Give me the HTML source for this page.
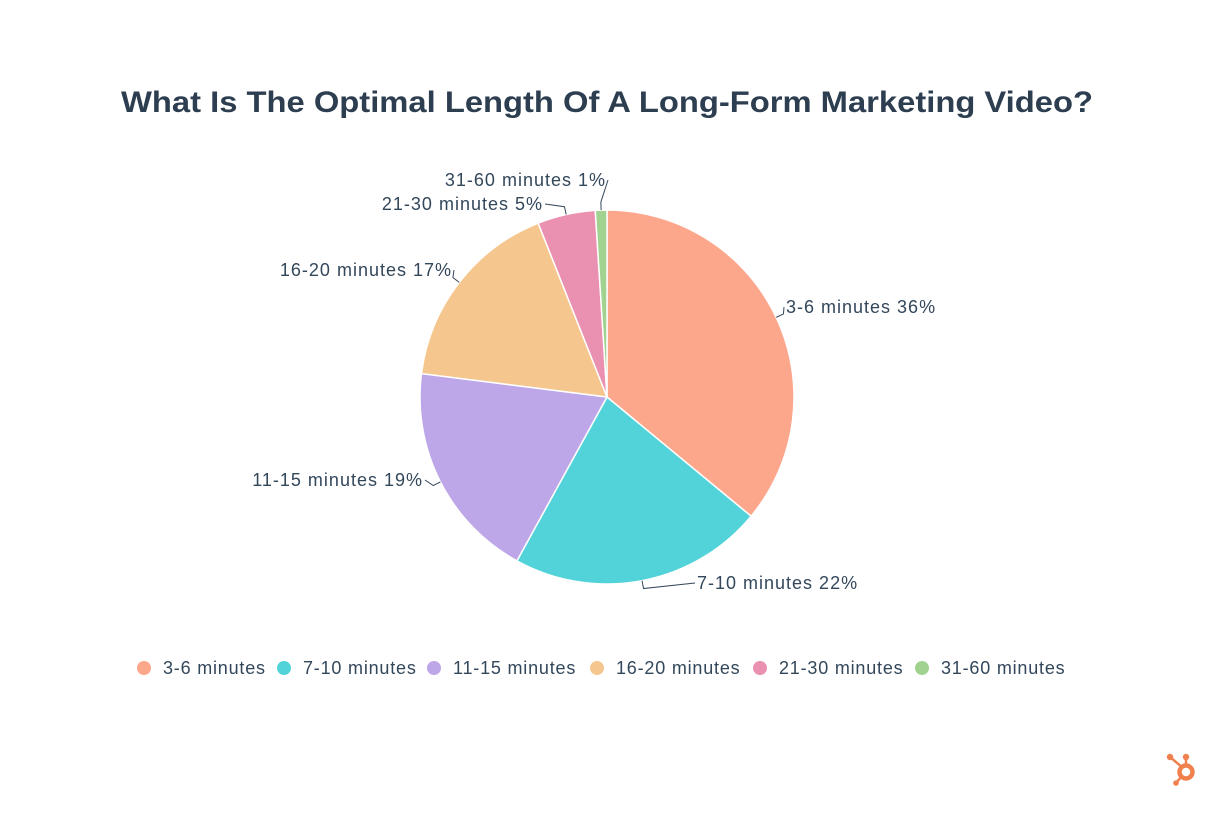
<!DOCTYPE html>
<html><head><meta charset="utf-8"><style>
html,body{margin:0;padding:0;background:#fff;}
svg{display:block;font-family:"Liberation Sans",sans-serif;}
</style></head><body>
<svg id="chart" width="1215" height="815" viewBox="0 0 1215 815">
<text x="607" y="112" text-anchor="middle" font-size="30" font-weight="bold" fill="#2d3e50" textLength="972" lengthAdjust="spacingAndGlyphs">What Is The Optimal Length Of A Long-Form Marketing Video?</text>
<g id="slices"></g><g id="labels"></g><g id="legend"></g>
<g transform="translate(1186,772)" fill="#f0814f" stroke="#f0814f">
<circle cx="0" cy="0" r="6.5" fill="none" stroke-width="4.5"/>
<line x1="-3" y1="-4" x2="-16" y2="-15" stroke-width="2.5"/><circle cx="-16" cy="-15" r="3.2" stroke="none"/>
<line x1="0" y1="-6" x2="0" y2="-15" stroke-width="2.5"/><circle cx="0" cy="-15" r="3.2" stroke="none"/>
<line x1="-4" y1="4" x2="-10" y2="11" stroke-width="2.5"/><circle cx="-10" cy="11" r="2.8" stroke="none"/>
</g>
</svg>
<script>
const categories=["3-6 minutes","7-10 minutes","11-15 minutes","16-20 minutes","21-30 minutes","31-60 minutes"];
const values=[36,22,19,17,5,1];
const colors=["#fca78b","#51d3d9","#bea7e8","#f5c78e","#ea90b1","#a2d28f"];
const labelX=[786,697,423,452,543,606];
const labelY=[313,589,486,276,210,186];
const legendX=[144,284,434,597,760,922];
const NS="http://www.w3.org/2000/svg";
const cx=607,cy=397,R=187;
const total=values.reduce((a,b)=>a+b,0);
function pt(frac,r){const a=frac*2*Math.PI;return [cx+r*Math.sin(a),cy-r*Math.cos(a)];}
const sl=document.getElementById('slices'),lb=document.getElementById('labels'),lg=document.getElementById('legend');
let acc=0;
values.forEach((v,i)=>{
  const f0=acc/total,f1=(acc+v)/total;acc+=v;
  const p0=pt(f0,R),p1=pt(f1,R),large=(f1-f0)>0.5?1:0;
  const p=document.createElementNS(NS,'path');
  p.setAttribute('d',`M${cx},${cy}L${p0[0]},${p0[1]}A${R},${R} 0 ${large} 1 ${p1[0]},${p1[1]}Z`);
  p.setAttribute('fill',colors[i]);p.setAttribute('stroke','#fff');p.setAttribute('stroke-width','1.5');
  
  
  sl.appendChild(p);
  const fm=(f0+f1)/2,e=pt(fm,R),e2=pt(fm,R+8);
  const right=Math.sin(fm*2*Math.PI)>0.05;
  const tx=labelX[i],ty=labelY[i];
  const lx=right?tx-2:tx+2;
  const ln=document.createElementNS(NS,'polyline');
  ln.setAttribute('points',`${e[0]},${e[1]} ${e2[0]},${e2[1]} ${lx},${ty-6}`);
  ln.setAttribute('fill','none');ln.setAttribute('stroke','#33475b');ln.setAttribute('stroke-width','1');
  
  
  lb.appendChild(ln);
  const t=document.createElementNS(NS,'text');
  t.setAttribute('x',tx);t.setAttribute('y',ty);t.setAttribute('font-size','18');t.setAttribute('fill','#33475b');
  t.setAttribute('letter-spacing','1');
  t.setAttribute('text-anchor',right?'start':'end');
  t.textContent=categories[i]+' '+v+'%';
  
  
  lb.appendChild(t);
  const g=document.createElementNS(NS,'g');
  
  
  const c=document.createElementNS(NS,'circle');
  c.setAttribute('cx',legendX[i]);c.setAttribute('cy',668);c.setAttribute('r',7);c.setAttribute('fill',colors[i]);
  g.appendChild(c);
  const lt=document.createElementNS(NS,'text');
  lt.setAttribute('x',legendX[i]+19);lt.setAttribute('y',674);lt.setAttribute('font-size','18');lt.setAttribute('fill','#33475b');
  lt.setAttribute('letter-spacing','0.8');
  lt.textContent=categories[i];
  g.appendChild(lt);
  lg.appendChild(g);
});
</script>
</body></html>
